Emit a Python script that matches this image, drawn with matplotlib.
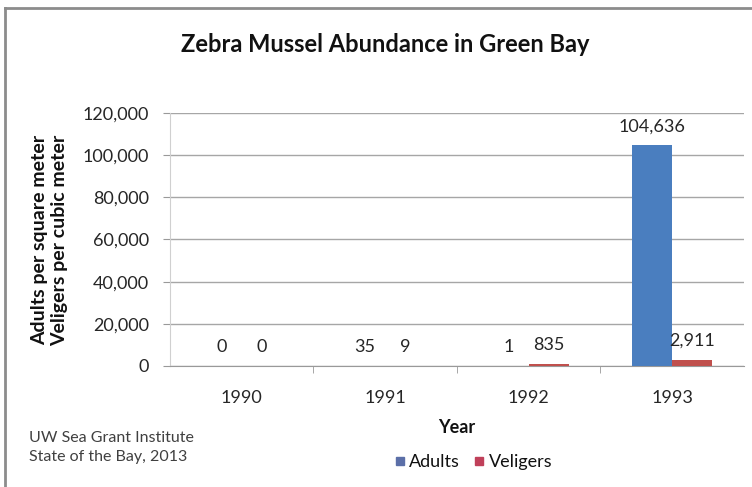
import matplotlib
matplotlib.use("Agg")
import matplotlib.pyplot as plt
from matplotlib.lines import Line2D
from matplotlib.ticker import FuncFormatter
import numpy as np

# data
years = ["1990", "1991", "1992", "1993"]
adults = [0, 35, 1, 104636]
veligers = [0, 9, 835, 2911]
adult_labels = ["0", "35", "1", "104,636"]
veliger_labels = ["0", "9", "835", "2,911"]

plt.rcParams['font.family'] = ['Lato', 'DejaVu Sans']

fig = plt.figure(figsize=(7.52, 4.87), dpi=100)
ax = fig.add_axes([0.226, 0.2485, 0.763, 0.5195])

x = np.arange(len(years))
w = 0.28
blue = "#4a7ebf"
red = "#c0504d"
txt = "#262626"
ax.bar(x - w / 2, adults, w, color=blue, zorder=3)
ax.bar(x + w / 2, veligers, w, color=red, zorder=3)

# value labels
for i in range(len(years)):
    ax.annotate(adult_labels[i], (x[i] - w / 2, adults[i]), xytext=(0, 8),
                textcoords="offset points", ha="center", va="bottom", fontsize=13, color=txt)
    ax.annotate(veliger_labels[i], (x[i] + w / 2, veligers[i]), xytext=(0, 8),
                textcoords="offset points", ha="center", va="bottom", fontsize=13, color=txt)

ax.set_xlim(-0.5, 3.5)
ax.set_ylim(0, 120000)
ax.set_yticks(np.arange(0, 120001, 20000))
ax.yaxis.set_major_formatter(FuncFormatter(lambda v, p: f"{int(v):,}"))
ax.set_xticks(x)
ax.set_xticklabels(years)
ax.set_xticks([0.5, 1.5, 2.5], minor=True)
ax.tick_params(axis="x", which="major", length=0, pad=17, labelsize=13, labelcolor=txt)
ax.tick_params(axis="x", which="minor", length=5, color="#999999")
ax.tick_params(axis="y", length=5, color="#999999", labelsize=13, pad=10, labelcolor=txt)
ax.grid(axis="y", color="#a6a6a6", linewidth=1, zorder=0)
for s in ["top", "right"]:
    ax.spines[s].set_visible(False)
ax.spines["left"].set_color("#d0d0d0")
ax.spines["bottom"].set_color("#999999")

ax.set_xlabel("Year", fontsize=13, fontweight="bold", labelpad=10, color="#111111")
fig.text(0.066, 0.507, "Adults per square meter\nVeligers per cubic meter", rotation=90,
         ha="center", va="center", fontsize=14, fontweight="bold", linespacing=1.15, color="#111111")
fig.text(0.512, 0.908, "Zebra Mussel Abundance in Green Bay", ha="center", va="center",
         fontsize=17, fontweight="bold", color="#111111")
fig.text(0.038, 0.082, "UW Sea Grant Institute\nState of the Bay, 2013", ha="left", va="center",
         fontsize=11.5, color="#404040", linespacing=1.45)

handles = [Line2D([], [], marker="s", color="#5b6fa8", linestyle="none", markersize=6),
           Line2D([], [], marker="s", color="#c0405a", linestyle="none", markersize=6)]
fig.legend(handles, ["Adults", "Veligers"], loc="center", bbox_to_anchor=(0.628, 0.051), ncol=2,
           frameon=False, fontsize=13, handletextpad=0.1, columnspacing=0.7, handlelength=0.8,
           labelcolor="#111111")

# chart frame
fig.add_artist(Line2D([0.007, 0.007], [0, 0.984], color="#8c8c8c", linewidth=2, transform=fig.transFigure))
fig.add_artist(Line2D([0.007, 1.0], [0.984, 0.984], color="#8c8c8c", linewidth=2, transform=fig.transFigure))

fig.savefig("out.png", dpi=100)
